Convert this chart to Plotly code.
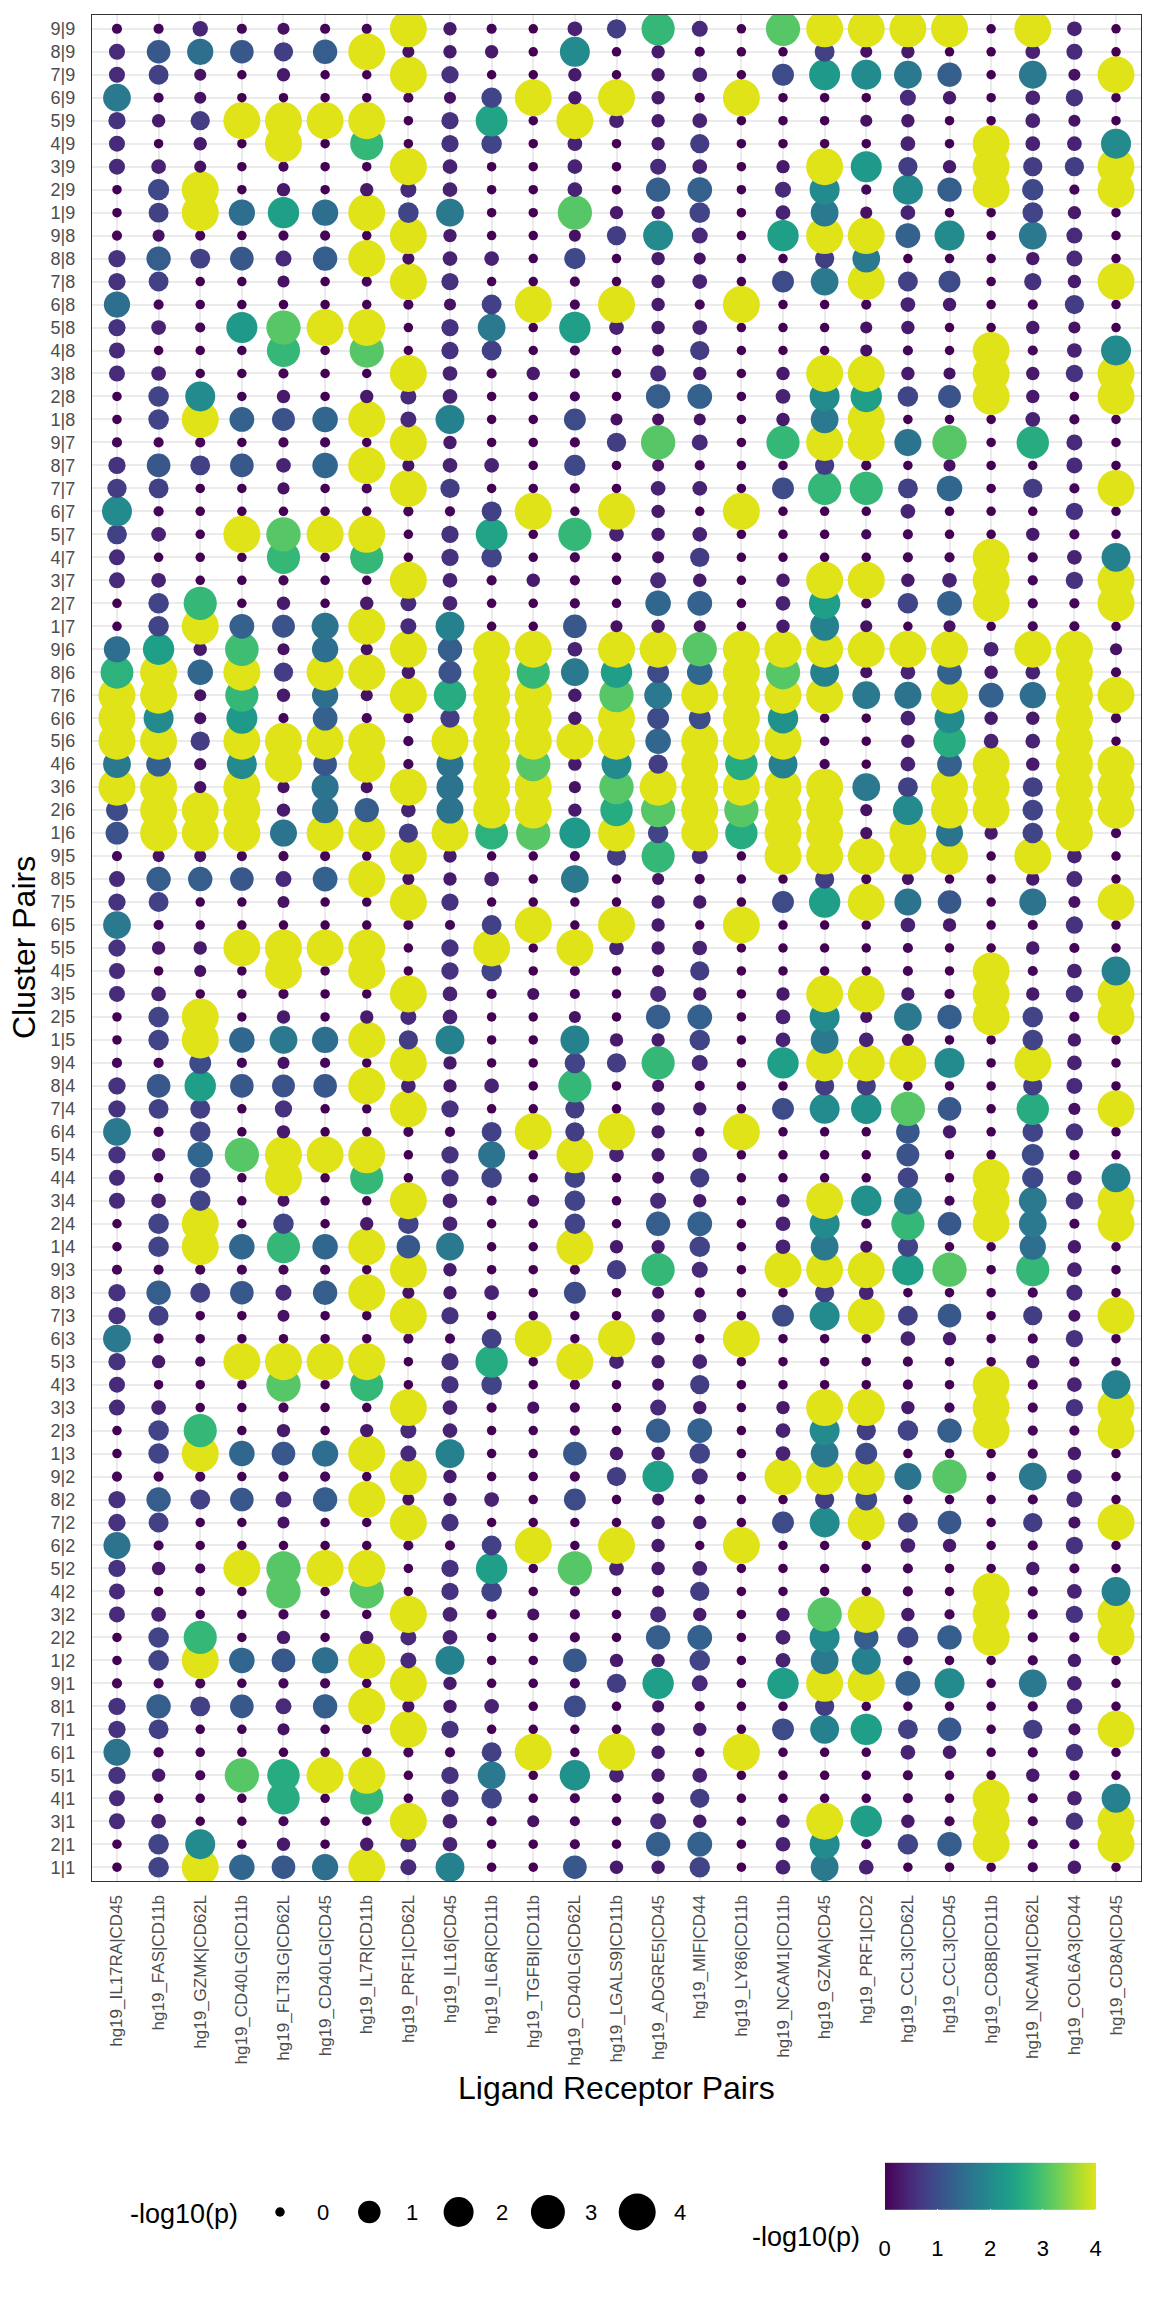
import numpy as np
import plotly.graph_objects as go

lr_pairs = ["hg19_IL17RA|CD45", "hg19_FAS|CD11b", "hg19_GZMK|CD62L", "hg19_CD40LG|CD11b",
            "hg19_FLT3LG|CD62L", "hg19_CD40LG|CD45", "hg19_IL7R|CD11b", "hg19_PRF1|CD62L",
            "hg19_IL16|CD45", "hg19_IL6R|CD11b", "hg19_TGFBI|CD11b", "hg19_CD40LG|CD62L",
            "hg19_LGALS9|CD11b", "hg19_ADGRE5|CD45", "hg19_MIF|CD44", "hg19_LY86|CD11b",
            "hg19_NCAM1|CD11b", "hg19_GZMA|CD45", "hg19_PRF1|CD2", "hg19_CCL3|CD62L",
            "hg19_CCL3|CD45", "hg19_CD8B|CD11b", "hg19_NCAM1|CD62L", "hg19_COL6A3|CD44",
            "hg19_CD8A|CD45"]

senders = [1, 2, 3, 4, 5, 6, 7, 8, 9]
receivers = [1, 2, 3, 4, 5, 6, 7, 8, 9]

# -log10(p) for each receiver cluster; rows listed top-to-bottom as in the chart
# (sender 9, 8, ..., 1), columns follow lr_pairs.
recv9 = [
    [0.05,0.05,0.45,0.05,0.2,0.05,0.05,4,0.3,0.05,0,0.4,0.75,2.8,0.5,0,3.1,4,4,4,4,0,4,0.4,0],
    [0.5,1.15,1.5,1.15,0.75,1.25,4,0.2,0.3,0.3,0,2.0,0,0.3,0.05,0,0,0.8,0.2,0.3,0,0,0.4,0.5,0],
    [0.5,0.8,0.2,0,0.3,0,0,4,0.6,0,0,0.3,0,0.3,0.4,0,0.95,2.25,2.0,1.7,1.25,0,1.7,0.2,4],
    [1.7,0.05,0.2,0,0,0,0,0.05,0.2,0.85,4,0.3,4,0.3,0.05,4,0,0,0,0.5,0.3,0,0.4,0.6,0],
    [0.6,0.3,0.75,4,4,4,4,0,0.6,2.45,0,4,0.4,0.3,0.4,0,0,0,0.2,0.3,0,0,0.4,0.2,0],
    [0.5,0,0.3,0,4,0,2.8,0,0.6,0.85,0,0.4,0,0.3,0.75,0,0,0,0,0.4,0,4,0.4,0.4,2.0],
    [0.5,0.4,0.2,0,0.05,0,0,4,0.4,0,0,0.4,0,0.5,0.4,0,0.3,4,2.25,0.75,0.3,4,0.75,0.75,4],
    [0,0.9,4,0,0.3,0,0.3,0.5,0.4,0,0,0.4,0,1.25,1.3,0,0.5,2.0,0.05,2.0,1.25,4,0.9,0.05,4],
    [0,0.8,4,1.5,2.35,1.5,4,0.85,1.7,0,0,3.1,0.3,0.3,0.85,0,0.4,1.7,0.2,0.4,0,0,0.85,0.3,0],
]
recv8 = [
    [0.05,0.2,0.05,0,0.05,0.05,0,4,0.3,0,0,0.2,0.75,2.0,0.5,0,2.35,4,4,1.3,2.0,0,1.7,0.5,0],
    [0.6,1.25,0.8,1.15,0.5,1.25,4,0.2,0.4,0.4,0,0.9,0,0.3,0.2,0,0,0.75,1.7,0,0,0,0.3,0.5,0],
    [0.6,0.8,0,0,0.2,0,0.05,4,0.6,0,0,0.05,0,0.3,0.4,0,0.95,1.7,4,0.8,0.95,0,0.6,0.3,4],
    [1.5,0.05,0,0,0,0,0,0.05,0.2,0.8,4,0.05,4,0.3,0.05,4,0,0,0.05,0.4,0.3,0,0.05,0.75,0],
    [0.6,0.4,0.05,2.25,3.1,4,4,0,0.6,1.7,0,2.35,0.4,0.3,0.4,0,0,0,0.2,0.3,0,0,0.3,0.2,0],
    [0.5,0,0,0,2.8,0,3.1,0,0.6,0.8,0,0.05,0,0.2,0.75,0,0,0,0.2,0.05,0,4,0.05,0.4,2.0],
    [0.5,0.4,0,0,0.05,0,0,4,0.4,0.05,0.3,0.05,0,0.5,0.3,0,0.3,4,4,0.3,0.2,4,0.3,0.6,4],
    [0,0.85,2.0,0,0.3,0,0.3,0.5,0.4,0,0,0.05,0,1.25,1.3,0,0.4,2.0,2.35,0.85,1.05,4,0.3,0,4],
    [0,0.85,4,1.3,1.05,1.4,4,0.5,1.85,0,0,0.95,0.2,0.2,0.2,0,0.3,1.7,4,0,0,0,0.4,0.05,0],
]
recv7 = [
    [0.05,0.05,0.05,0,0.05,0.05,0,4,0.3,0,0,0.05,0.75,3.1,0.5,0,2.8,4,4,1.6,3.1,0,2.6,0.5,0],
    [0.6,1.15,0.8,1.15,0.4,1.4,4,0.2,0.4,0.4,0,0.9,0,0.2,0.05,0,0,0.75,0.05,0,0.2,0,0,0.5,0],
    [0.75,0.8,0,0,0.2,0,0.05,4,0.75,0,0,0.05,0,0.4,0.4,0,0.95,2.8,2.8,0.8,1.4,0,0.75,0.05,4],
    [2.0,0.05,0,0,0,0,0,0.05,0.05,0.8,4,0,4,0.3,0,4,0,0,0,0.4,0,0,0,0.6,0],
    [0.8,0.4,0,4,3.1,4,4,0,0.6,2.45,0,2.8,0.4,0.3,0.4,0,0,0,0.05,0.05,0,0,0.3,0.05,0],
    [0.5,0,0,0,2.8,0,2.8,0,0.6,0.85,0,0.05,0,0.2,0.75,0,0,0,0,0.05,0.05,4,0.05,0.4,1.85],
    [0.5,0.4,0,0,0.05,0,0,4,0.4,0.05,0.3,0.05,0,0.5,0.3,0,0.3,4,4,0.3,0.4,4,0.05,0.6,4],
    [0,0.85,2.8,0,0.3,0,0.3,0.5,0.4,0,0,0.05,0,1.4,1.3,0,0.4,2.35,0.05,0.85,1.3,4,0.05,0.05,4],
    [0,0.85,4,1.3,1.05,1.6,4,0.5,1.85,0,0,1.15,0.2,0.3,0.2,0,0.3,1.85,0.2,0,0.2,0,0.05,0.05,0],
]
recv6 = [
    [1.5,2.35,0.3,2.9,0.2,1.5,0.2,4,1.25,4,4,0.4,4,4,3.1,4,4,4,4,4,4,0.4,4,4,0.2],
    [2.7,4,1.4,4,0.75,4,4,0.3,1.05,4,2.8,1.7,2.35,0.95,1.4,4,3.1,1.85,0.2,0.4,1.3,0.3,0.4,4,0.05],
    [4,4,0.2,2.8,0.3,1.5,0.2,4,2.6,4,4,0.3,3.1,1.7,4,4,4,4,1.7,1.6,4,1.3,1.5,4,4],
    [4,2.0,0.2,2.25,0.05,1.3,0.05,0.05,0.75,4,4,0.3,4,0.95,0.95,4,2.1,0,0,0.4,2.0,0.3,0.3,4,0.05],
    [4,4,0.75,4,4,4,4,0.05,4,4,4,4,4,1.4,4,4,4,0,0,0.3,2.6,0.4,0.4,4,0],
    [1.7,1.3,0.2,2.0,4,1.15,4,0.05,1.6,4,3.1,0.3,2.0,0.75,4,2.6,1.85,0.05,0,0.4,1.3,4,0.3,4,4],
    [4,4,0.2,4,0.2,1.6,0.2,4,1.6,4,4,0.2,3.1,4,4,4,4,4,1.7,0.8,4,4,0.8,4,4],
    [0.95,4,4,4,0.3,1.5,1.25,0.4,1.6,4,4,0.3,2.6,3.1,4,3.1,4,4,0.2,2.0,4,4,0.85,4,4],
    [1.05,4,4,4,1.6,4,4,0.75,4,2.7,3.1,2.25,4,0.85,4,2.6,4,4,0.2,4,1.6,0.3,0.85,4,0.05],
]
recv5 = [
    [0.05,0.2,0.2,0.05,0.05,0.05,0,4,0.3,0,0,0.05,0.75,2.8,0.5,0,4,4,4,4,4,0,4,0.4,0],
    [0.5,1.25,1.25,1.15,0.5,1.3,4,0.2,0.3,0.4,0,1.7,0,0.2,0.05,0,0,0.75,0.05,0.2,0,0,0.3,0.5,0],
    [0.6,0.8,0,0,0.2,0,0,4,0.6,0,0,0,0,0.3,0.3,0,0.95,2.35,4,1.6,1.15,0,1.6,0.2,4],
    [1.7,0.05,0,0,0,0,0,0.05,0.05,0.8,4,0,4,0.3,0,4,0,0,0,0.4,0.3,0,0.05,0.6,0],
    [0.6,0.3,0.3,4,4,4,4,0,0.6,4,0,4,0.4,0.3,0.4,0,0,0,0,0.05,0,0,0.3,0.05,0],
    [0.5,0,0.2,0,4,0,4,0,0.6,0.85,0,0.05,0,0.2,0.75,0,0,0,0,0.05,0,4,0.05,0.4,1.85],
    [0.5,0.4,0,0,0.05,0,0,4,0.4,0.05,0.2,0.05,0,0.5,0.3,0,0.3,4,4,0.3,0.05,4,0.3,0.6,4],
    [0,0.85,4,0,0.3,0,0.3,0.5,0.4,0,0,0.2,0,1.25,1.3,0,0.4,2.0,0.2,1.7,1.25,4,0.85,0.05,4],
    [0,0.85,4,1.4,1.7,1.5,4,0.75,1.85,0,0,1.85,0.3,0.3,0.85,0,0.4,1.7,0.4,0.2,0,0,0.85,0.3,0],
]
recv4 = [
    [0.05,0.05,0.95,0.05,0.2,0.05,0,4,0.3,0,0,0.85,0.75,2.8,0.5,0,2.35,4,4,4,2.0,0,4,0.4,0],
    [0.6,1.15,2.35,1.15,1.05,1.15,4,0.4,0.3,0.4,0,2.8,0,0.2,0.05,0,0,0.75,0.75,0,0,0,0.75,0.5,0],
    [0.6,0.8,0.8,0,0.6,0,0,4,0.6,0,0,0.75,0,0.3,0.3,0,0.95,2.0,2.1,3.1,1.15,0,2.6,0.2,4],
    [1.7,0.05,0.85,0,0.3,0,0,0.05,0.05,0.8,4,0.75,4,0.3,0,4,0,0,0,1.15,0.3,0,0.85,0.6,0],
    [0.6,0.3,1.4,3.1,4,4,4,0,0.6,1.6,0,4,0.4,0.3,0.4,0,0,0,0,1.05,0,0,0.95,0.05,0],
    [0.5,0,0.85,0,4,0,2.8,0,0.6,0.85,0,0.85,0,0.2,0.75,0,0,0,0,0.85,0,4,0.9,0.4,1.85],
    [0.5,0.4,0.85,0,0.2,0,0,4,0.4,0.05,0.2,0.85,0,0.5,0.3,0,0.3,4,2.1,1.7,0.05,4,1.7,0.6,4],
    [0,0.85,4,0,0.85,0,0.3,0.85,0.4,0,0,0.85,0,1.25,1.3,0,0.4,2.0,0.05,2.8,1.15,4,1.7,0.05,4],
    [0,0.85,4,1.4,2.8,1.4,4,1.15,1.7,0,0,4,0.3,0.3,0.85,0,0.4,1.7,0.2,0.85,0,0,1.5,0.3,0],
]
recv3 = [
    [0.05,0.05,0.05,0.05,0.05,0.05,0,4,0.3,0,0,0.05,0.75,2.8,0.5,0,4,4,4,2.35,3.1,0,2.8,0.4,0],
    [0.6,1.25,0.8,1.15,0.5,1.25,4,0.2,0.3,0.4,0,0.95,0,0.2,0.05,0,0,0.75,0.4,0,0,0,0.05,0.5,0],
    [0.6,0.8,0,0,0.2,0,0,4,0.6,0,0,0,0,0.3,0.3,0,0.95,2.0,4,0.8,1.15,0,0.75,0.2,4],
    [1.7,0.05,0,0,0,0,0,0.05,0.05,0.8,4,0,4,0.3,0,4,0,0,0,0.4,0.3,0,0.05,0.6,0],
    [0.6,0.3,0.05,4,4,4,4,0,0.6,2.6,0,4,0.4,0.3,0.4,0,0,0,0,0.05,0,0,0.3,0.05,0],
    [0.5,0,0,0,3.1,0,2.8,0,0.6,0.85,0,0.05,0,0.2,0.75,0,0,0,0,0.05,0,4,0.05,0.4,1.85],
    [0.5,0.4,0,0,0.05,0,0,4,0.4,0.05,0.2,0.05,0,0.5,0.3,0,0.3,4,4,0.3,0.05,4,0.05,0.6,4],
    [0,0.85,2.8,0,0.3,0,0.3,0.5,0.4,0,0,0.05,0,1.25,1.3,0,0.4,2.0,0.75,0.85,1.25,4,0.05,0.05,4],
    [0,0.85,4,1.4,1.15,1.5,4,0.5,1.85,0,0,1.15,0.3,0.3,0.85,0,0.4,1.7,0.95,0,0,0,0.05,0.3,0],
]
recv2 = [
    [0.05,0.05,0.05,0,0.05,0.05,0,4,0.3,0,0,0.05,0.75,2.35,0.5,0,4,4,4,1.6,3.1,0,1.7,0.4,0],
    [0.6,1.25,0.8,1.15,0.5,1.25,4,0.2,0.3,0.4,0,0.95,0,0.2,0.05,0,0,0.75,0.95,0,0,0,0.05,0.5,0],
    [0.6,0.8,0,0,0.2,0,0,4,0.6,0,0,0,0,0.3,0.3,0,0.95,2.0,4,0.8,1.15,0,0.75,0.2,4],
    [1.6,0.05,0,0,0,0,0,0.05,0.05,0.8,4,0,4,0.3,0,4,0,0,0,0.4,0.3,0,0.05,0.6,0],
    [0.6,0.3,0.05,4,3.1,4,4,0,0.6,2.35,0,3.1,0.4,0.3,0.4,0,0,0,0,0.05,0,0,0.3,0.05,0],
    [0.5,0,0,0,3.1,0,3.1,0,0.6,0.85,0,0.05,0,0.2,0.75,0,0,0,0,0.05,0,4,0.05,0.4,1.85],
    [0.5,0.4,0,0,0.05,0,0,4,0.4,0.05,0.2,0.05,0,0.5,0.3,0,0.3,3.1,4,0.3,0.05,4,0.05,0.6,4],
    [0,0.85,2.8,0,0.3,0,0.3,0.5,0.4,0,0,0.05,0,1.25,1.3,0,0.4,2.0,1.25,0.9,1.25,4,0.05,0.05,4],
    [0,0.85,4,1.4,1.15,1.5,4,0.5,1.85,0,0,1.15,0.3,0.3,0.85,0,0.4,1.7,1.85,0,0,0,0.05,0.3,0],
]
recv1 = [
    [0.05,0.05,0.05,0,0.05,0.05,0,4,0.3,0,0,0.05,0.75,2.35,0.5,0,2.35,4,4,1.3,2.0,0,1.7,0.4,0],
    [0.6,1.25,0.8,1.15,0.5,1.25,4,0.2,0.3,0.4,0,0.95,0,0.2,0.05,0,0,0.75,0,0,0,0,0.05,0.5,0],
    [0.6,0.8,0,0,0.2,0,0,4,0.6,0,0,0,0,0.3,0.3,0,0.95,1.85,2.35,0.8,1.15,0,0.75,0.2,4],
    [1.6,0.05,0,0,0,0,0,0.05,0.05,0.8,4,0,4,0.3,0,4,0,0,0,0.4,0.3,0,0.05,0.6,0],
    [0.6,0.3,0.05,3.1,2.6,4,4,0,0.6,1.7,0,2.1,0.4,0.3,0.4,0,0,0,0,0.05,0,0,0.3,0.05,0],
    [0.5,0,0,0,2.6,0,2.8,0,0.6,0.85,0,0.05,0,0.2,0.75,0,0,0,0,0.05,0,4,0.05,0.4,1.85],
    [0.5,0.4,0,0,0.05,0,0,4,0.4,0.05,0.2,0.05,0,0.5,0.3,0,0.3,4,2.35,0.3,0.05,4,0.05,0.6,4],
    [0,0.85,2.0,0,0.3,0,0.3,0.5,0.4,0,0,0.05,0,1.25,1.3,0,0.4,2.0,0.05,0.85,1.25,4,0.05,0.05,4],
    [0,0.85,4,1.4,1.15,1.5,4,0.5,1.85,0,0,1.15,0.3,0.3,0.85,0,0.4,1.7,0.4,0,0,0,0.05,0.3,0],
]

size_breaks = [0, 1, 2, 3, 4]
size_px = [9.5, 22.5, 30, 34, 37]   # marker diameter for each legend break

viridis = ["#440154", "#471365", "#482475", "#463480", "#414487", "#3b528b", "#355f8d",
           "#2f6c8e", "#2a788e", "#25848e", "#21918c", "#1e9c89", "#22a884", "#2fb47c",
           "#44bf70", "#5ec962", "#7ad151", "#9bd93c", "#bddf26", "#dfe318"]
colorscale = [[i / (len(viridis) - 1), c] for i, c in enumerate(viridis)]

groups = {1: recv1, 2: recv2, 3: recv3, 4: recv4, 5: recv5,
          6: recv6, 7: recv7, 8: recv8, 9: recv9}

# y categories bottom-to-top: 1|1, 2|1, ..., 9|1, 1|2, ..., 9|9
cluster_pairs = [f"{s}|{r}" for r in receivers for s in senders]

xs, ys, vs = [], [], []
for r in receivers:
    rows = groups[r][::-1]          # sender 1..9
    for si, s in enumerate(senders):
        for ci, lr in enumerate(lr_pairs):
            xs.append(lr)
            ys.append(f"{s}|{r}")
            vs.append(rows[si][ci])
vs = np.array(vs, dtype=float)
sizes = np.interp(vs, size_breaks, size_px)

W, H = 1152, 2304
PL, PR, PT, PB = 92, 1141, 15, 1881   # panel edges in px

def fx(px):
    return px / W

def fy(py):
    return (H - py) / H

FONT = "Liberation Sans, Arial, Helvetica, sans-serif"
GREY = "#4d4d4d"

fig = go.Figure()
fig.add_trace(go.Scatter(
    x=xs, y=ys, mode="markers",
    marker=dict(size=sizes, sizemode="diameter", color=vs, cmin=0, cmax=4,
                colorscale=colorscale, line=dict(width=0), opacity=1,
                showscale=True,
                colorbar=dict(orientation="h", x=fx(990), y=fy(2212),
                              xanchor="center", yanchor="middle",
                              len=231, lenmode="pixels", thickness=47,
                              thicknessmode="pixels", outlinewidth=0,
                              tickvals=size_breaks, ticktext=[str(b) for b in size_breaks],
                              ticks="outside", ticklen=20, tickcolor="white", tickwidth=1,
                              tickfont=dict(family=FONT, size=22, color="black"),
                              title=dict(text=""))),
    showlegend=False, hoverinfo="skip", xaxis="x", yaxis="y"))

# size legend keys
leg_x0, leg_dx, leg_y = 280, 89.3, 2212
fig.add_trace(go.Scatter(
    x=[leg_x0 + i * leg_dx for i in range(len(size_breaks))],
    y=[leg_y] * len(size_breaks), mode="markers",
    marker=dict(size=np.interp(size_breaks, size_breaks, size_px), sizemode="diameter",
                color="#000000", opacity=1, line=dict(width=0)),
    opacity=1, showlegend=False, hoverinfo="skip", xaxis="x2", yaxis="y2"))

annotations = [
    dict(text="Cluster Pairs", x=fx(24), y=fy((PT + PB) / 2), xref="paper", yref="paper",
         textangle=-90, showarrow=False, font=dict(family=FONT, size=32, color="black"),
         xanchor="center", yanchor="middle"),
    dict(text="Ligand Receptor Pairs", x=fx((PL + PR) / 2), y=fy(2088), xref="paper",
         yref="paper", showarrow=False, font=dict(family=FONT, size=32, color="black"),
         xanchor="center", yanchor="middle"),
    dict(text="-log10(p)", x=fx(184), y=fy(2214), xref="paper", yref="paper",
         showarrow=False, font=dict(family=FONT, size=27, color="black"),
         xanchor="center", yanchor="middle"),
    dict(text="-log10(p)", x=fx(806), y=fy(2237), xref="paper", yref="paper",
         showarrow=False, font=dict(family=FONT, size=27, color="black"),
         xanchor="center", yanchor="middle"),
]
for i, b in enumerate(size_breaks):
    annotations.append(dict(text=str(b), x=fx(leg_x0 + i * leg_dx + 43), y=fy(leg_y),
                            xref="paper", yref="paper", showarrow=False,
                            font=dict(family=FONT, size=22, color="black"),
                            xanchor="center", yanchor="middle"))

fig.update_layout(
    width=W, height=H, margin=dict(l=0, r=0, t=0, b=0),
    paper_bgcolor="white", plot_bgcolor="white",
    xaxis=dict(domain=[fx(PL), fx(PR)], type="category", categoryorder="array",
               categoryarray=lr_pairs, range=[-0.6, len(lr_pairs) - 0.4],
               tickmode="array", tickvals=lr_pairs, ticktext=lr_pairs,
               tickangle=-90, tickfont=dict(family=FONT, size=17, color=GREY),
               showgrid=True, gridcolor="#ebebeb", gridwidth=2, ticks="",
               showline=True, linecolor="#333333", linewidth=1.3, mirror=True,
               zeroline=False, ticklabelstandoff=6, anchor="y"),
    yaxis=dict(domain=[fy(PB), fy(PT)], type="category", categoryorder="array",
               categoryarray=cluster_pairs, range=[-0.6, len(cluster_pairs) - 0.4],
               tickmode="array", tickvals=cluster_pairs, ticktext=cluster_pairs,
               tickfont=dict(family=FONT, size=18, color=GREY),
               showgrid=True, gridcolor="#ebebeb", gridwidth=2, ticks="",
               showline=True, linecolor="#333333", linewidth=1.3, mirror=True,
               zeroline=False, ticklabelstandoff=12, anchor="x"),
    xaxis2=dict(domain=[0, 1], range=[0, W], visible=False, anchor="y2"),
    yaxis2=dict(domain=[fy(2280), fy(2150)], range=[2280, 2150], visible=False, anchor="x2"),
    annotations=annotations,
)

fig.write_html("out.html")
